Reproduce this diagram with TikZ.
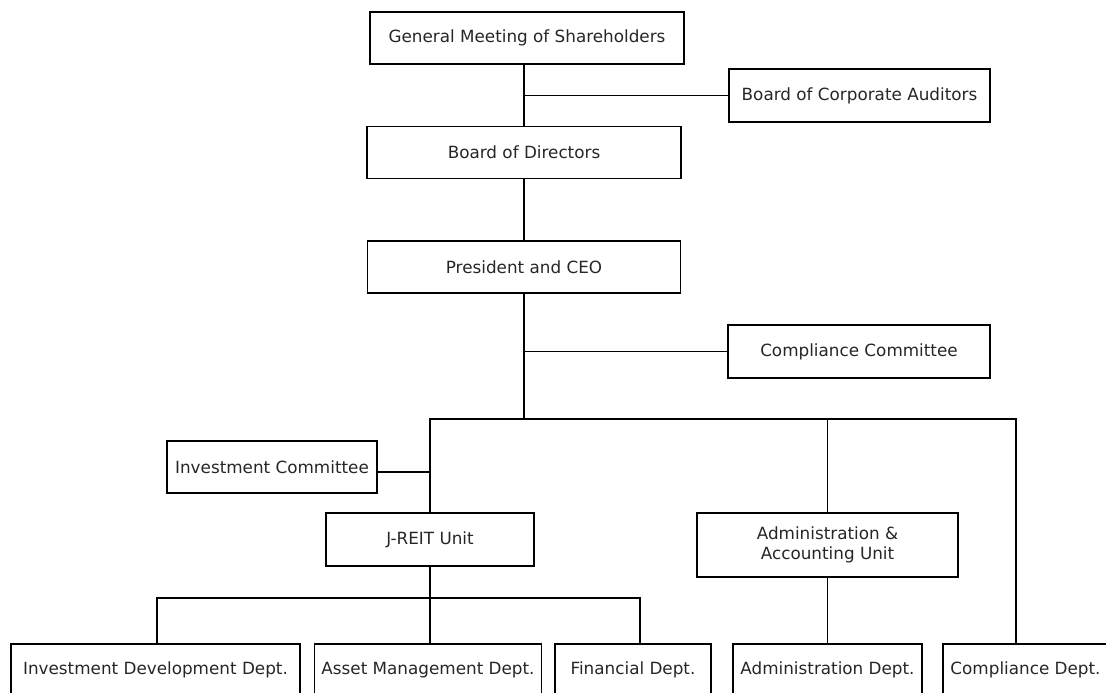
\documentclass[tikz,border=0pt]{standalone}
\usepackage{fontspec}
\setmainfont{DejaVu Sans}
\begin{document}
\begin{tikzpicture}[x=1pt, y=-1pt,
    box/.style={draw, line width=1.5pt, minimum height=52pt, inner sep=0pt,
        align=center, text=black!85, font=\fontsize{16.8}{19.5}\selectfont},
    link/.style={line width=1.5pt}]

    \useasboundingbox (0,0) rectangle (1106,693);
    \clip (0,0) rectangle (1106,693);

    \node[box, minimum width=314pt] (gms) at (527,38) {General Meeting of Shareholders};
    \node[box, minimum width=261pt, minimum height=53pt] (bca) at (859.5,95.5) {Board of Corporate Auditors};
    \node[box, minimum width=314pt] (bod) at (524,152.5) {Board of Directors};
    \node[box, minimum width=313pt] (ceo) at (524,267) {President and CEO};
    \node[box, minimum width=262pt, minimum height=53pt] (cc) at (859,351.5) {Compliance Committee};

    \node[box, minimum width=210pt] (ic) at (272,467) {Investment Committee};
    \node[box, minimum width=208pt, minimum height=53pt] (ju) at (430,539.5) {J-REIT Unit};
    \node[box, minimum width=261pt, minimum height=64pt] (aau) at (827.5,545) {Administration \&\\Accounting Unit};

    \node[box, minimum width=289pt] (idd) at (155.5,670) {Investment Development Dept.};
    \node[box, minimum width=227pt] (amd) at (428,670) {Asset Management Dept.};
    \node[box, minimum width=156pt] (fd) at (633,670) {Financial Dept.};
    \node[box, minimum width=189pt] (ad) at (827.5,670) {Administration Dept.};
    \node[box, minimum width=165pt] (cd) at (1025.5,670) {Compliance Dept.};

    % bus lines
    \coordinate (bus) at (524,419);
    \coordinate (busR) at (1016,419);
    \coordinate (subL) at (157,598);
    \coordinate (subR) at (640,598);

    \draw[link] (bod.north |- gms.south) -- (bod.north);
    \draw[link] (bod.north |- bca.west) -- (bca.west);
    \draw[link] (bod.south) -- (ceo.north);
    \draw[link] (ceo.south) -- (bus);
    \draw[link] (ceo.south |- cc.west) -- (cc.west);

    \draw[link] (ju.north) -- (ju.north |- bus) -- (busR) -- (busR |- cd.north);
    \draw[link] (aau.north) -- (aau.north |- bus);
    \draw[link] ([yshift=-5pt]ic.east) -- ([yshift=-5pt]ic.east -| ju.north);

    \draw[link] (ju.south) -- (ju.south |- subL);
    \draw[link] (subL |- idd.north) -- (subL) -- (subR) -- (subR |- fd.north);
    \draw[link] (ju.south |- subL) -- (ju.south |- amd.north);
    \draw[link] (aau.south) -- (ad.north);

\end{tikzpicture}
\end{document}
